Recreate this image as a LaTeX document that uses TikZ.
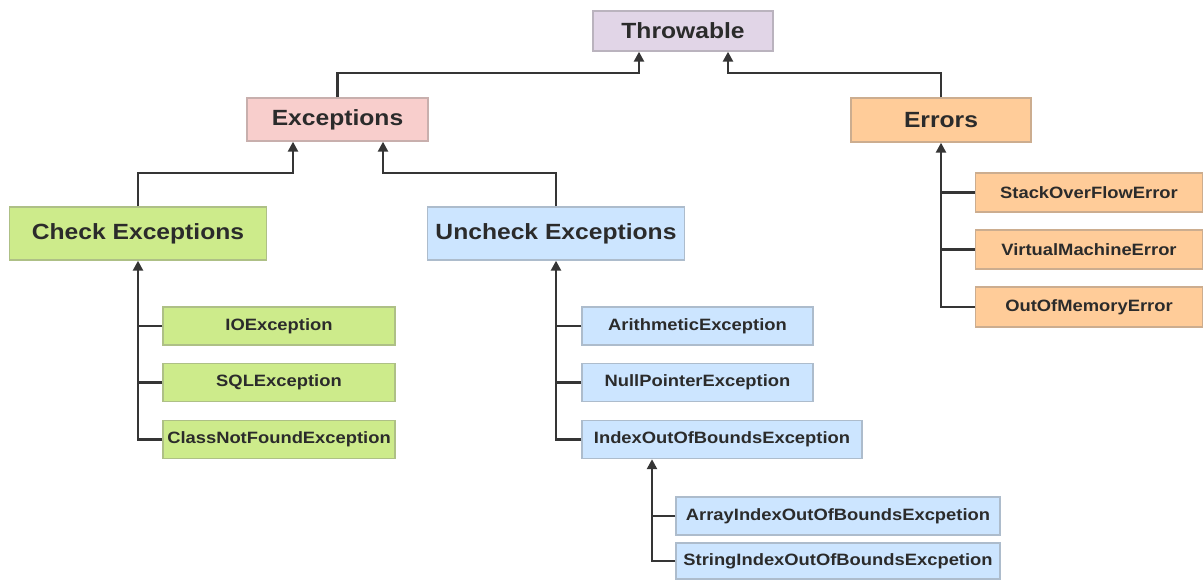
\documentclass[tikz,border=0pt]{standalone}
\usepackage{fontspec}
\setmainfont{Liberation Sans}[FakeStretch=1.12]
\usetikzlibrary{arrows.meta}

\definecolor{thrfill}{HTML}{E1D5E7}
\definecolor{excfill}{HTML}{F8CECC}
\definecolor{errfill}{HTML}{FFCC99}
\definecolor{chkfill}{HTML}{CDEB8B}
\definecolor{uncfill}{HTML}{CCE5FF}
\definecolor{txt}{HTML}{2B2B2B}
\definecolor{wire}{HTML}{353535}

\tikzset{
  box/.style={rectangle, inner sep=0pt, line width=1.4pt, text=txt,
    font=\bfseries\fontsize{16.4}{19}\selectfont},
  big/.style={box, font=\bfseries\fontsize{22}{26}\selectfont},
  thrbox/.style={big, fill=thrfill, draw=thrfill!60!gray},
  excbox/.style={big, fill=excfill, draw=excfill!60!gray},
  errbox/.style={big, fill=errfill, draw=errfill!60!gray},
  chkbox/.style={box, fill=chkfill, draw=chkfill!60!gray},
  uncbox/.style={box, fill=uncfill, draw=uncfill!60!gray},
  errleaf/.style={box, fill=errfill, draw=errfill!60!gray},
  link/.style={draw=wire, line width=2.4pt},
  arr/.style={link, -{Triangle[length=10pt,width=10pt]}}
}

\begin{document}
\begin{tikzpicture}[x=1pt,y=-1pt]
\useasboundingbox (0,0) rectangle (1203,580);

% top of the hierarchy
\node[thrbox, minimum width=180pt, minimum height=40pt] (thr) at (683,31) {Throwable};
\node[excbox, minimum width=181pt, minimum height=43pt] (exc) at (337.5,119.5) {Exceptions};
\node[errbox, minimum width=180pt, minimum height=44pt] (err) at (941,120) {Errors};

% checked and unchecked branches
\node[chkbox, big, minimum width=257pt, minimum height=53pt] (chk) at (138,233.5) {Check Exceptions};
\node[uncbox, big, minimum width=257pt, minimum height=53pt] (unc) at (556,233.5) {Uncheck Exceptions};

% checked exceptions
\node[chkbox, minimum width=232pt, minimum height=38pt] (io)  at (279,326)   {IOException};
\node[chkbox, minimum width=232pt, minimum height=38pt] (sql) at (279,382.5) {SQLException};
\node[chkbox, minimum width=232pt, minimum height=38pt] (cnf) at (279,439.5) {ClassNotFoundException};

% unchecked exceptions
\node[uncbox, minimum width=231pt, minimum height=38pt] (ari)  at (697.5,326)   {ArithmeticException};
\node[uncbox, minimum width=231pt, minimum height=38pt] (npe)  at (697.5,382.5) {NullPointerException};
\node[uncbox, minimum width=280pt, minimum height=38pt] (ioob) at (722,439.5)   {IndexOutOfBoundsException};
\node[uncbox, minimum width=324pt, minimum height=38pt] (aioob) at (838,516) {ArrayIndexOutOfBoundsExcpetion};
\node[uncbox, minimum width=324pt, minimum height=36pt] (sioob) at (838,561) {StringIndexOutOfBoundsExcpetion};

% errors
\node[errleaf, minimum width=227pt, minimum height=39pt] (sofe) at (1089,192.5) {StackOverFlowError};
\node[errleaf, minimum width=227pt, minimum height=39pt] (vme)  at (1089,249.5) {VirtualMachineError};
\node[errleaf, minimum width=227pt, minimum height=40pt] (oome) at (1089,307)   {OutOfMemoryError};

% arrow targets on the parents' lower edges
\coordinate (thrA)  at ([xshift=-44pt]thr.south);
\coordinate (thrB)  at ([xshift=45pt]thr.south);
\coordinate (excA)  at ([xshift=-44.5pt]exc.south);
\coordinate (excB)  at ([xshift=45.5pt]exc.south);
\coordinate (ioobA) at ([xshift=-70pt]ioob.south);

% links to Throwable
\draw[arr] (exc.north) -- ++(0,-24) -| (thrA);
\draw[arr] (err.north) -- ++(0,-24) -| (thrB);

% links to Exceptions
\draw[arr] (chk.north) -- ++(0,-33) -| (excA);
\draw[arr] (unc.north) -- ++(0,-33) -| (excB);

% checked exception tree
\draw[arr] (cnf.west) -| (chk.south);
\draw[link] (io.west) -- (io.west -| chk.south);
\draw[link] (sql.west) -- (sql.west -| chk.south);

% unchecked exception tree
\draw[arr] (ioob.west) -| (unc.south);
\draw[link] (ari.west) -- (ari.west -| unc.south);
\draw[link] (npe.west) -- (npe.west -| unc.south);

% index out of bounds subtree
\draw[arr] (sioob.west) -| (ioobA);
\draw[link] (aioob.west) -- (aioob.west -| ioobA);

% error tree
\draw[arr] (oome.west) -| (err.south);
\draw[link] (sofe.west) -- (sofe.west -| err.south);
\draw[link] (vme.west) -- (vme.west -| err.south);
\end{tikzpicture}
\end{document}
